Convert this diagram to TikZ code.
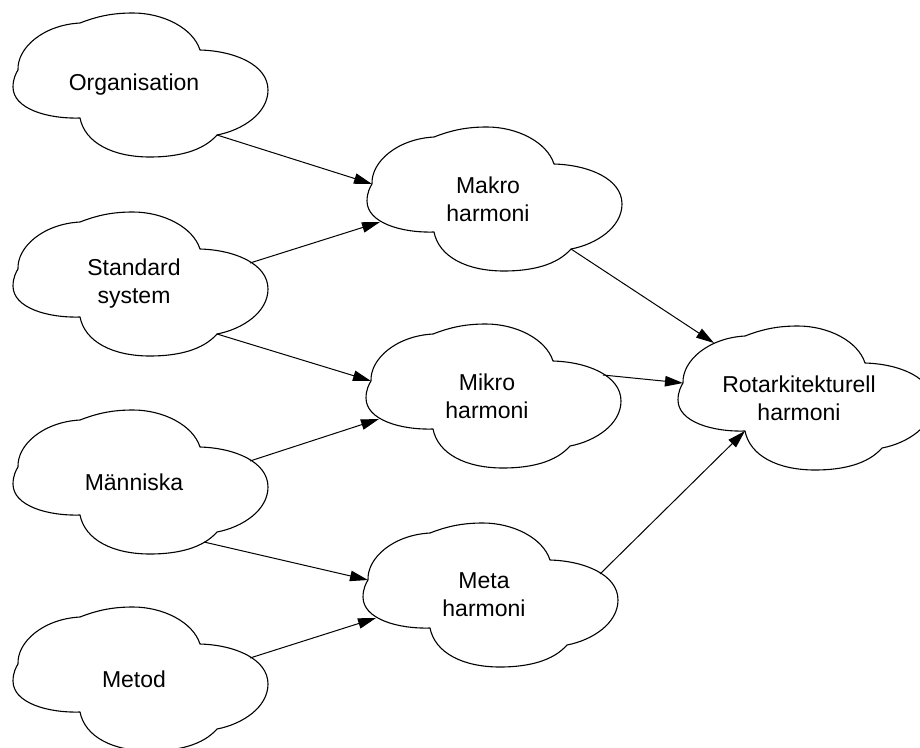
\documentclass[tikz,border=0pt]{standalone}
\usepackage{fontspec}
\setmainfont{Liberation Sans}
\usetikzlibrary{arrows.meta}

\tikzset{
  cloudline/.style={draw=black, line width=1.1pt, fill=white, line join=round},
  cloudtext/.style={align=center, inner sep=0pt,
    font=\fontsize{23}{28}\selectfont},
  link/.style={draw=black, line width=1pt,
    -{Triangle[length=18pt,width=10.5pt]}},
  % a cloud 255 x 144 units, origin at its top-left corner
  vcloud/.pic={
    \path[cloudline] (67,10)
      .. controls (85,3) and (100,0) .. (120,0)
      .. controls (150,0) and (180,15) .. (187,37)
      .. controls (222,38) and (255,52) .. (255,77)
      .. controls (255,100) and (230,117) .. (204,122)
      .. controls (190,138) and (165,144) .. (137,144)
      .. controls (100,144) and (72,130) .. (67,105)
      .. controls (35,106) and (0,96) .. (0,74)
      .. controls (0,66) and (3,60) .. (5,57)
      .. controls (4,35) and (30,12) .. (67,10) -- cycle;
    \node[cloudtext] (-label) at (121,72) {#1};
    % attachment points on the outline
    \coordinate (-nc) at (204,122);
    \coordinate (-re) at (237,51);
    \coordinate (-bc) at (191,132);
    \coordinate (-ln) at (5,57);
    \coordinate (-lb) at (13,95);
    \coordinate (-tl) at (36,17);
    \coordinate (-nd) at (67,105);
  }
}

\begin{document}
\begin{tikzpicture}[x=1pt, y=-1pt]
  \useasboundingbox (0,0) rectangle (920,747);
  \clip (0,0) rectangle (920,747);

  % sources
  \pic (org) at (13,13)  {vcloud={Organisation}};
  \pic (std) at (13,212) {vcloud={Standard\\system}};
  \pic (man) at (13,410) {vcloud={Människa}};
  \pic (met) at (13,607) {vcloud={Metod}};

  % intermediate harmonies
  \pic (mak) at (367,127) {vcloud={Makro\\harmoni}};
  \pic (mik) at (366,324) {vcloud={Mikro\\harmoni}};
  \pic (mta) at (363,523) {vcloud={Meta\\harmoni}};

  % result
  \pic (rot) at (678,326) {vcloud={Rotarkitekturell\\harmoni}};

  % connectors
  \draw[link] (org-nc) -- (mak-ln);
  \draw[link] (std-re) -- (mak-lb);
  \draw[link] (std-nc) -- (mik-ln);
  \draw[link] (man-re) -- (mik-lb);
  \draw[link] (man-bc) -- (mta-ln);
  \draw[link] (met-re) -- (mta-lb);
  \draw[link] (mak-nc) -- (rot-tl);
  \draw[link] (mik-re) -- (rot-ln);
  \draw[link] (mta-re) -- (rot-nd);
\end{tikzpicture}
\end{document}
